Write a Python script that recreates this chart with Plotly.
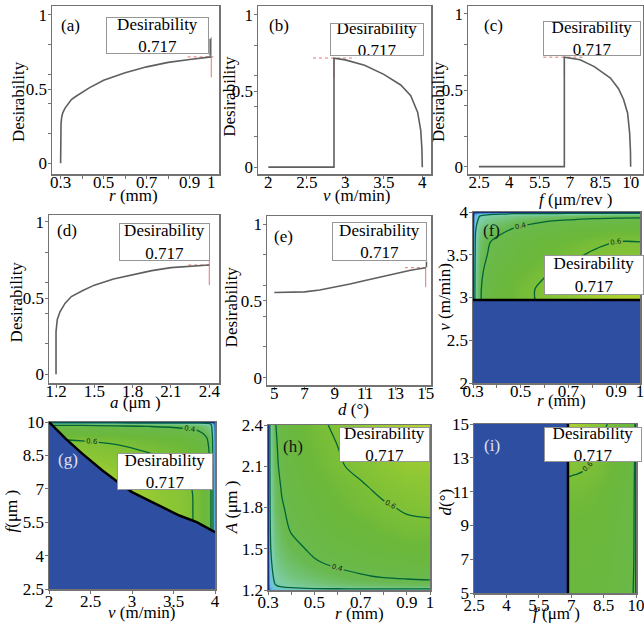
import plotly.graph_objects as go

W, H = 644, 628
SERIF = "Liberation Serif"
FRAME = "rgb(115,115,115)"
CURVE = "rgb(95,95,95)"
RED = "rgba(226,90,90,0.85)"
BLUE = "rgb(46,78,162)"
GREEN_LINE = "rgb(0,100,55)"

# ---------------- data: single-factor desirability curves ----------------
r_a = [0.3, 0.3, 0.302, 0.305, 0.31, 0.32, 0.33, 0.35, 0.37, 0.4, 0.435, 0.5, 0.56, 0.6, 0.7, 0.8, 0.9, 1.0]
D_a = [0.0, 0.22, 0.27, 0.31, 0.34, 0.37, 0.39, 0.43, 0.45, 0.48, 0.51, 0.56, 0.59, 0.61, 0.65, 0.68, 0.70, 0.717]

v_b = [2.0, 2.853, 2.853, 3.0, 3.25, 3.5, 3.72, 3.85, 3.94, 3.98, 3.995, 4.0]
D_b = [0.0, 0.0, 0.716, 0.705, 0.67, 0.61, 0.54, 0.47, 0.36, 0.24, 0.12, 0.0]

f_c = [2.5, 6.72, 6.72, 7.0, 7.5, 8.2, 9.0, 9.4, 9.65, 9.85, 9.95, 9.99, 10.0]
D_c = [0.0, 0.0, 0.717, 0.71, 0.70, 0.655, 0.58, 0.51, 0.44, 0.35, 0.22, 0.10, 0.0]

a_d = [1.2, 1.2, 1.21, 1.231, 1.27, 1.32, 1.41, 1.5, 1.65, 1.8, 1.95, 2.1, 2.25, 2.4]
D_d = [0.0, 0.28, 0.36, 0.41, 0.465, 0.51, 0.55, 0.585, 0.625, 0.655, 0.68, 0.70, 0.71, 0.717]

d_e = [5, 6, 7, 8, 9, 10, 11, 12, 13, 14, 15]
D_e = [0.555, 0.556, 0.559, 0.572, 0.589, 0.61, 0.633, 0.656, 0.678, 0.70, 0.717]

# optimum points and the red cross-hair extents
opt_x = [1.0, 2.853, 6.72, 2.4, 15.0]
opt_D = 0.717
cross_h = [(0.89, 1.01), (2.58, 3.13), (5.68, 7.74), (2.236, 2.42), (13.63, 15.1)]
cross_v = [(0.58, 0.85), (0.585, 0.716), (0.59, 0.717), (0.585, 0.745), (0.59, 0.72)]
optimum_text = "Desirability<br>0.717"

# ---------------- data: two-factor desirability surfaces ----------------
# (f) r vs v, feasible for v >= 2.97
r_f = [0.3, 0.31, 0.33, 0.36, 0.4, 0.5, 0.6, 0.7, 0.8, 0.9, 1.0]
v_f = [2.97, 3.1, 3.3, 3.5, 3.65, 3.8, 3.9, 3.95, 3.98, 4.0]
z_f = [
    [0, 0.25, 0.39, 0.46, 0.50, 0.57, 0.62, 0.66, 0.69, 0.71, 0.72],
    [0, 0.25, 0.39, 0.45, 0.50, 0.57, 0.62, 0.65, 0.68, 0.70, 0.71],
    [0, 0.24, 0.37, 0.44, 0.48, 0.54, 0.59, 0.63, 0.65, 0.67, 0.68],
    [0, 0.22, 0.35, 0.40, 0.44, 0.50, 0.55, 0.58, 0.61, 0.62, 0.63],
    [0, 0.21, 0.33, 0.39, 0.42, 0.48, 0.52, 0.55, 0.58, 0.60, 0.60],
    [0, 0.19, 0.29, 0.34, 0.37, 0.42, 0.46, 0.49, 0.51, 0.53, 0.53],
    [0, 0.16, 0.24, 0.28, 0.31, 0.36, 0.39, 0.41, 0.43, 0.44, 0.45],
    [0, 0.13, 0.21, 0.24, 0.26, 0.30, 0.32, 0.34, 0.36, 0.37, 0.37],
    [0, 0.09, 0.14, 0.17, 0.18, 0.21, 0.22, 0.24, 0.25, 0.26, 0.26],
    [0, 0, 0, 0, 0, 0, 0, 0, 0, 0, 0],
]
v_f_limit = 2.97

# (g) v vs f, feasible above the boundary curve
v_g = [2.0, 2.4, 2.8, 3.2, 3.6, 3.8, 3.9, 3.95, 4.0]
f_g = [2.5, 5.0, 6.0, 7.0, 8.0, 8.5, 9.0, 9.3, 9.6, 9.8, 9.93, 10.0]
z_g = [
    [0.74, 0.73, 0.70, 0.67, 0.64, 0.58, 0.50, 0.41, 0],
    [0.74, 0.73, 0.70, 0.67, 0.64, 0.58, 0.50, 0.41, 0],
    [0.74, 0.73, 0.70, 0.67, 0.64, 0.58, 0.50, 0.41, 0],
    [0.73, 0.72, 0.70, 0.67, 0.63, 0.58, 0.50, 0.41, 0],
    [0.70, 0.68, 0.66, 0.63, 0.60, 0.55, 0.47, 0.39, 0],
    [0.67, 0.65, 0.63, 0.61, 0.57, 0.53, 0.45, 0.37, 0],
    [0.63, 0.62, 0.60, 0.57, 0.54, 0.50, 0.43, 0.35, 0],
    [0.59, 0.58, 0.56, 0.54, 0.51, 0.47, 0.40, 0.33, 0],
    [0.50, 0.49, 0.48, 0.46, 0.43, 0.40, 0.34, 0.28, 0],
    [0.44, 0.44, 0.42, 0.40, 0.38, 0.35, 0.30, 0.25, 0],
    [0.33, 0.33, 0.32, 0.30, 0.29, 0.26, 0.23, 0.19, 0],
    [0, 0, 0, 0, 0, 0, 0, 0, 0],
]
g_bound_v = [2.0, 2.2, 2.4, 2.64, 2.8, 3.0, 3.2, 3.37, 3.57, 3.78, 4.0]
g_bound_f = [10.0, 9.25, 8.58, 7.83, 7.38, 6.85, 6.48, 6.18, 5.8, 5.5, 5.05]

# (h) r vs A
r_h = [0.3, 0.31, 0.33, 0.36, 0.4, 0.5, 0.6, 0.7, 0.8, 0.9, 1.0]
A_h = [1.2, 1.21, 1.23, 1.26, 1.3, 1.4, 1.5, 1.65, 1.8, 1.95, 2.1, 2.25, 2.4]
z_h = [
    [0, 0, 0, 0, 0, 0, 0, 0, 0, 0, 0],
    [0, 0.09, 0.14, 0.16, 0.18, 0.20, 0.22, 0.23, 0.24, 0.25, 0.25],
    [0, 0.12, 0.19, 0.22, 0.24, 0.28, 0.30, 0.32, 0.33, 0.34, 0.34],
    [0, 0.14, 0.21, 0.25, 0.27, 0.31, 0.34, 0.36, 0.37, 0.38, 0.39],
    [0, 0.15, 0.23, 0.27, 0.30, 0.34, 0.37, 0.39, 0.41, 0.42, 0.42],
    [0, 0.17, 0.27, 0.31, 0.34, 0.39, 0.42, 0.45, 0.47, 0.48, 0.49],
    [0, 0.19, 0.29, 0.34, 0.37, 0.42, 0.46, 0.49, 0.51, 0.53, 0.53],
    [0, 0.20, 0.32, 0.37, 0.41, 0.46, 0.51, 0.53, 0.56, 0.58, 0.58],
    [0, 0.22, 0.34, 0.39, 0.43, 0.49, 0.54, 0.57, 0.59, 0.61, 0.62],
    [0, 0.23, 0.35, 0.41, 0.45, 0.52, 0.56, 0.59, 0.62, 0.64, 0.65],
    [0, 0.24, 0.37, 0.43, 0.47, 0.54, 0.59, 0.62, 0.65, 0.67, 0.67],
    [0, 0.24, 0.38, 0.44, 0.49, 0.56, 0.60, 0.64, 0.67, 0.69, 0.70],
    [0, 0.25, 0.39, 0.46, 0.50, 0.57, 0.62, 0.66, 0.69, 0.71, 0.72],
]

# (i) f vs d, feasible for f >= 6.85
f_i = [6.85, 7.5, 8.0, 8.5, 9.0, 9.5, 9.8, 9.9, 9.95, 9.98, 10.0]
d_i = [5, 7, 9, 11, 12, 13, 14, 15]
z_i = [
    [0.51, 0.505, 0.50, 0.49, 0.47, 0.45, 0.42, 0.39, 0.33, 0.23, 0],
    [0.52, 0.515, 0.51, 0.50, 0.48, 0.455, 0.43, 0.40, 0.34, 0.23, 0],
    [0.54, 0.535, 0.53, 0.515, 0.49, 0.465, 0.44, 0.41, 0.35, 0.24, 0],
    [0.57, 0.565, 0.555, 0.54, 0.51, 0.48, 0.45, 0.42, 0.36, 0.25, 0],
    [0.605, 0.595, 0.58, 0.56, 0.525, 0.49, 0.46, 0.43, 0.37, 0.25, 0],
    [0.65, 0.625, 0.605, 0.575, 0.535, 0.50, 0.47, 0.44, 0.38, 0.26, 0],
    [0.69, 0.655, 0.625, 0.59, 0.55, 0.51, 0.48, 0.45, 0.39, 0.27, 0],
    [0.717, 0.68, 0.65, 0.615, 0.57, 0.53, 0.49, 0.46, 0.40, 0.28, 0],
]
f_i_limit = 6.85

# tick values
ticks_r = [0.3, 0.5, 0.7, 0.9, 1]
minor_r = [0.4, 0.6, 0.8]
ticks_v = [2, 2.5, 3, 3.5, 4]
ticks_f = [2.5, 4, 5.5, 7, 8.5, 10]
ticks_a = [1.2, 1.5, 1.8, 2.1, 2.4]
ticks_d = [5, 7, 9, 11, 13, 15]
ticks_D = [0, 0.5, 1]
minor_D = [0.2, 0.4, 0.6, 0.8]

# ---------------- layout geometry (pixels) ----------------
def dom(l, r, t, b):
    return [l / W, r / W], [1 - b / H, 1 - t / H]

panels = [
    # name, (l, r, t, b), xrange, yrange, xticks, xminor, yticks, yminor, x-label standoff
    ("a", (52, 219, 6, 174), [0.26, 1.036], [-0.072, 1.06], ticks_r, minor_r, ticks_D, minor_D, -11),
    ("b", (258, 431, 6, 174), [1.866, 4.113], [-0.045, 1.059], ticks_v, None, ticks_D, minor_D, -11),
    ("c", (468, 643, 6, 174), [1.956, 10.61], [-0.048, 1.052], ticks_f, None, ticks_D, minor_D, -11),
    ("d", (49, 219, 215, 383), [1.145, 2.476], [-0.057, 1.045], ticks_a, None, ticks_D, minor_D, -11),
    ("e", (267, 431, 216, 385), [4.52, 15.35], [-0.048, 1.054], ticks_d, None, ticks_D, minor_D, -11),
    ("f", (473, 640, 212, 383), [0.3, 1.0], [2, 4], ticks_r, minor_r, ticks_v, None, -11),
    ("g", (49, 215, 422, 589), [2, 4], [2.5, 10], ticks_v, None, ticks_f, None, -7),
    ("h", (268, 430, 425, 590), [0.3, 1.0], [1.2, 2.4], ticks_r, minor_r, ticks_a, None, -7),
    ("i", (474, 636, 424, 593), [2.5, 10], [5, 15], ticks_f, None, ticks_d, None, -7),
]

fig = go.Figure()
layout = dict(
    template="none",
    width=W, height=H, margin=dict(l=0, r=0, t=0, b=0, pad=0, autoexpand=False),
    paper_bgcolor="white", plot_bgcolor="white", showlegend=False,
    font=dict(family=SERIF, size=17, color="black"),
)

def fmt(v):
    return "%g" % v

for k, (name, box, xr, yr, xt, xm, yt, ym, xso) in enumerate(panels):
    n = "" if k == 0 else str(k + 1)
    xd, yd = dom(*box)
    base = dict(showline=True, mirror=True, linecolor=FRAME, linewidth=1.5,
                ticks="outside", ticklen=3, tickcolor=FRAME, tickwidth=1,
                showgrid=False, zeroline=False, fixedrange=True, tickangle=0,
                automargin=False, ticklabeloverflow="allow",
                tickfont=dict(family=SERIF, size=17, color="black"))
    xa = dict(base, domain=xd, range=xr, anchor="y" + n, tickmode="array",
              tickvals=xt, ticktext=[fmt(v) for v in xt], ticklabelstandoff=xso)
    ya = dict(base, domain=yd, range=yr, anchor="x" + n, tickmode="array",
              tickvals=yt, ticktext=[fmt(v) for v in yt], ticklabelstandoff=-3)
    if xm:
        xa["minor"] = dict(tickmode="array", tickvals=xm, ticks="outside", ticklen=3, tickcolor=FRAME)
    if ym:
        ya["minor"] = dict(tickmode="array", tickvals=ym, ticks="outside", ticklen=3, tickcolor=FRAME)
    layout["xaxis" + n] = xa
    layout["yaxis" + n] = ya

def ax(k):
    n = "" if k == 0 else str(k + 1)
    return dict(xaxis="x" + n, yaxis="y" + n)

# ---------------- line panels ----------------
curves = [(r_a, D_a), (v_b, D_b), (f_c, D_c), (a_d, D_d), (d_e, D_e)]
for k, (xs, ys) in enumerate(curves):
    (h0, h1), (v0, v1) = cross_h[k], cross_v[k]
    fig.add_trace(go.Scatter(x=[h0, h1], y=[opt_D, opt_D], mode="lines",
                             line=dict(color=RED, width=1, dash="dot"), hoverinfo="skip", **ax(k)))
    fig.add_trace(go.Scatter(x=[opt_x[k], opt_x[k]], y=[v0, v1], mode="lines",
                             line=dict(color=RED, width=1), hoverinfo="skip", **ax(k)))
    fig.add_trace(go.Scatter(x=xs, y=ys, mode="lines",
                             line=dict(color=CURVE, width=1.6), **ax(k)))

# small callout lines from boxes to optimum
fig.add_trace(go.Scatter(x=[0.995, 0.995], y=[0.725, 0.84], mode="lines",
                         line=dict(color="rgb(90,90,90)", width=1.5), **ax(0)))
fig.add_trace(go.Scatter(x=[15.05, 15.05], y=[0.72, 0.757], mode="lines",
                         line=dict(color="rgb(90,90,90)", width=1.5), **ax(4)))

# ---------------- contour panels ----------------
cscale = [
    [0.0, "rgb(25,45,120)"], [0.06, "rgb(50,110,190)"], [0.16, "rgb(105,190,230)"],
    [0.32, "rgb(125,205,165)"], [0.5, "rgb(105,185,80)"], [0.72, "rgb(108,184,58)"],
    [0.87, "rgb(140,198,52)"], [1.0, "rgb(195,217,45)"],
]

def contour(x, y, z, k):
    fig.add_trace(go.Contour(
        x=x, y=y, z=z, zauto=False, zmin=0, zmax=0.75, colorscale=cscale, showscale=False,
        contours=dict(start=0.2, end=0.6, size=0.2, coloring="heatmap", showlabels=True,
                      labelfont=dict(family="DejaVu Sans", size=7, color="rgb(30,30,30)"),
                      labelformat=".1f"),
        line=dict(color=GREEN_LINE, width=1.3, smoothing=1), hoverinfo="skip", **ax(k)))

contour(r_f, v_f, z_f, 5)
contour(v_g, f_g, z_g, 6)
contour(r_h, A_h, z_h, 7)
contour(f_i, d_i, z_i, 8)

# infeasible (zero desirability) regions
fig.add_trace(go.Scatter(x=[0.3, 1.0, 1.0, 0.3, 0.3], y=[2, 2, v_f_limit, v_f_limit, 2],
                         fill="toself", fillcolor=BLUE, mode="lines", line=dict(width=0), **ax(5)))
fig.add_trace(go.Scatter(x=[0.3, 1.0], y=[v_f_limit, v_f_limit], mode="lines",
                         line=dict(color="black", width=2.5), **ax(5)))

fig.add_trace(go.Scatter(x=g_bound_v + [4.0, 2.0, 2.0], y=g_bound_f + [2.5, 2.5, 10.0],
                         fill="toself", fillcolor=BLUE, mode="lines", line=dict(width=0), **ax(6)))
fig.add_trace(go.Scatter(x=g_bound_v, y=g_bound_f, mode="lines",
                         line=dict(color="black", width=2.5), **ax(6)))

fig.add_trace(go.Scatter(x=[2.5, f_i_limit, f_i_limit, 2.5, 2.5], y=[5, 5, 15, 15, 5],
                         fill="toself", fillcolor=BLUE, mode="lines", line=dict(width=0), **ax(8)))
fig.add_trace(go.Scatter(x=[f_i_limit, f_i_limit], y=[5, 15], mode="lines",
                         line=dict(color="black", width=2.5), **ax(8)))

# ---------------- annotations ----------------
ann = []
boxes = [(157.5, 35.5, 103, 37), (377, 39.3, 94, 33), (591.7, 38.2, 98, 35),
         (164.7, 242.5, 91, 38), (379.8, 241.3, 95, 39), (593.7, 275, 100, 40),
         (164.5, 471.7, 96, 37), (384.5, 444.2, 91, 35), (593.3, 444.2, 98, 35)]
for cx, cy, w, h in boxes:
    ann.append(dict(x=cx / W, y=1 - cy / H, xref="paper", yref="paper", text=optimum_text,
                    showarrow=False, font=dict(family=SERIF, size=17, color="black"),
                    bgcolor="white", bordercolor="rgb(150,150,150)", borderwidth=1,
                    borderpad=0, width=w - 2, height=h - 2, xanchor="center", yanchor="middle"))

labels = [("(a)", 70, 25, "black"), ("(b)", 278.5, 25, "black"), ("(c)", 493, 25, "black"),
          ("(d)", 66.7, 230, "black"), ("(e)", 283, 236.7, "black"), ("(f)", 491.7, 230, "rgb(20,20,20)"),
          ("(g)", 68.3, 460, "rgb(225,225,235)"), ("(h)", 293.3, 446.7, "rgb(20,20,20)"),
          ("(i)", 491.7, 445, "rgb(225,225,235)")]
for t, cx, cy, col in labels:
    ann.append(dict(x=cx / W, y=1 - cy / H, xref="paper", yref="paper", text=t, showarrow=False,
                    font=dict(family=SERIF, size=17, color=col), xanchor="center", yanchor="middle"))

ytitles = [("Desirability", 18.3, 101.7), ("Desirability", 230, 96.7), ("Desirability", 438.3, 101.7),
           ("Desirability", 16.7, 301.7), ("Desirability", 231.7, 306.7),
           ("<i>v</i> (m/min)", 445, 296.7), ("<i>f</i>(μm )", 11.7, 510.8),
           ("<i>A</i> (μm )", 231.7, 507.5), ("<i>d</i>(°)", 445, 502.5)]
for t, cx, cy in ytitles:
    ann.append(dict(x=cx / W, y=1 - cy / H, xref="paper", yref="paper", text=t, showarrow=False,
                    textangle=-90, font=dict(family=SERIF, size=17, color="black"),
                    xanchor="center", yanchor="middle"))

xtitles = [("<i>r</i> (mm)", 133.3, 195), ("<i>v</i> (m/min)", 356.7, 195), ("<i>f</i> (μm/rev )", 575, 199),
           ("<i>a</i> (μm )", 135, 402), ("<i>d</i> (°)", 353.3, 409), ("<i>r</i> (mm)", 561.7, 400),
           ("<i>v</i> (m/min)", 142.3, 612), ("<i>r</i> (mm)", 360, 613), ("<i>f</i> (μm )", 556.7, 613)]
for t, cx, cy in xtitles:
    ann.append(dict(x=cx / W, y=1 - cy / H, xref="paper", yref="paper", text=t, showarrow=False,
                    font=dict(family=SERIF, size=17, color="black"),
                    xanchor="center", yanchor="middle"))

layout["annotations"] = ann
fig.update_layout(**layout)
fig.write_html("out.html", config={"displayModeBar": False, "staticPlot": True},
               post_script="document.body.style.margin='0';document.body.style.overflow='hidden';")
